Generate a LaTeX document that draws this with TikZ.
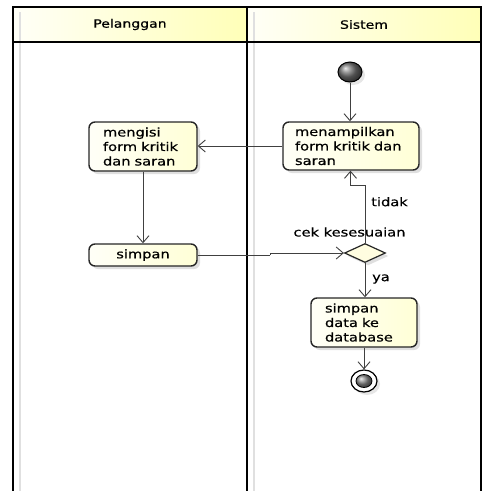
\documentclass[tikz,border=0pt]{standalone}
\usepackage{fontspec}
\setmainfont{DejaVu Sans}[FakeStretch=1.22,FakeBold=0.6]
\usetikzlibrary{arrows.meta,shapes.geometric,shadows}

\begin{document}
\begin{tikzpicture}[x=1pt,y=-1pt,
  font=\fontsize{12}{14.5}\selectfont,
  lane/.style={line width=2pt,black},
  laneshade/.style={line width=1.6pt,black!12},
  header/.style={left color=yellow!3,right color=yellow!28},
  action/.style={draw=black!85,line width=1.4pt,rounded corners=6pt,
     left color=yellow!3,right color=yellow!16,
     drop shadow={shadow xshift=3pt,shadow yshift=-3pt,opacity=0.25},
     align=left,inner ysep=0pt},
  decision/.style={diamond,draw=black!85,line width=1.2pt,fill=yellow!12,
     minimum width=41pt,minimum height=19pt,inner sep=0pt,aspect=2.15,
     drop shadow={shadow xshift=3pt,shadow yshift=-3pt,opacity=0.25}},
  flow/.style={draw=black!75,line width=0.9pt,
     -{Straight Barb[length=7pt,width=12pt,line width=0.9pt]}},
  plain/.style={draw=black!75,line width=0.9pt},
]
\useasboundingbox (0,0) rectangle (485,491);

% swimlane headers
\fill[header] (13,7) rectangle (247,42);
\fill[header] (247,7) rectangle (481,42);
\node[font=\fontsize{11.5}{13}\selectfont] (hp) at (130,24.5) {Pelanggan};
\node[font=\fontsize{11.5}{13}\selectfont] (hs) at (364,24.5) {Sistem};

% soft shade beside the lane borders
\draw[laneshade] (20,12) -- (20,491);
\draw[laneshade] (254,12) -- (254,491);

% swimlane frame
\draw[lane] (13,491) -- (13,7) -- (481,7) -- (481,491);
\draw[lane] (247,7) -- (247,491);
\draw[line width=1.5pt,black] (13,42) -- (481,42);

% start and end
\node[ellipse,draw=black,line width=1pt,ball color=black!55,
      minimum width=24pt,minimum height=20pt,inner sep=0pt,
      drop shadow={shadow xshift=3pt,shadow yshift=-3pt,opacity=0.2}] (start) at (350,72) {};
\node[ellipse,draw=black,line width=1.2pt,fill=white,
      minimum width=26pt,minimum height=22pt,inner sep=0pt,
      drop shadow={shadow xshift=3pt,shadow yshift=-3pt,opacity=0.2}] (end) at (364,381) {};
\node[ellipse,draw=black,line width=0.8pt,ball color=black!45,
      minimum width=16pt,minimum height=13pt,inner sep=0pt] (endin) at (end.center) {};

% actions
\node[action,minimum width=108pt,minimum height=49pt,text width=80pt,inner xsep=14pt]
  (isi) at (143,146.5) {mengisi\\form kritik\\dan saran};
\node[action,minimum width=108pt,minimum height=22pt,text width=80pt,inner xsep=14pt,align=center]
  (simpan) at (143,255) {simpan};
\node[action,minimum width=136pt,minimum height=48pt,text width=112pt,inner xsep=12pt]
  (tampil) at (351,146) {menampilkan\\form kritik dan\\saran};
\node[action,minimum width=106pt,minimum height=49pt,text width=78pt,inner xsep=14pt]
  (db) at (364,322.5) {simpan\\data ke\\database};
\node[decision] (cek) at (365,253) {};

% labels
\node (lcek) at (349.5,232) {cek kesesuaian};
\node (ltidak) at (389.5,201.7) {tidak};
\node (lya) at (381,279) {ya};

% route points
\coordinate (kb) at (350.5,185);
\coordinate (jog) at (270,255);

% flows
\draw[flow] (start) -- (start |- tampil.north);
\draw[flow] (tampil.west) -- (tampil.west -| isi.east);
\draw[flow] (isi.south) -- (simpan.north);
\draw[plain] (simpan.east) -- (jog);
\draw[flow] (jog) -- (jog |- cek.west) -- (cek.west);
\draw[flow] (cek.north) |- (kb) -- (kb |- tampil.south);
\draw[flow] (cek.south) -- (cek.south |- db.north);
\draw[flow] (db.south) -- (end.north);
\end{tikzpicture}
\end{document}
